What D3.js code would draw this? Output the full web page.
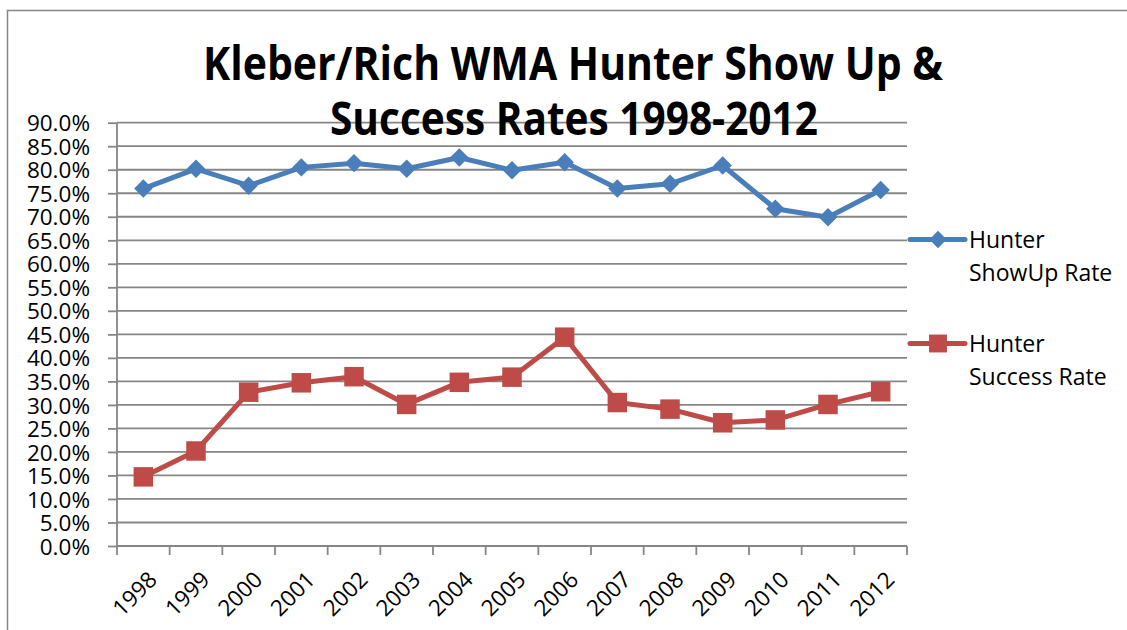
<!DOCTYPE html>
<html><head><meta charset="utf-8">
<script src="https://cdn.jsdelivr.net/npm/d3@7"></script>
<style>body{margin:0;background:#fff}svg{display:block}</style>
</head><body><svg id="c" width="1127" height="630"></svg>
<script>
const years = ["1998","1999","2000","2001","2002","2003","2004","2005","2006","2007","2008","2009","2010","2011","2012"];
const showUpRate = [76.0,80.2,76.6,80.5,81.4,80.2,82.6,79.9,81.6,76.0,77.0,80.9,71.7,69.9,75.7];
const successRate = [14.7,20.2,32.7,34.7,36.0,30.1,34.8,35.9,44.4,30.5,29.1,26.2,26.8,30.1,32.8];
const yTicks = [0,5,10,15,20,25,30,35,40,45,50,55,60,65,70,75,80,85,90];
const seriesNames = [["Hunter","ShowUp Rate"],["Hunter","Success Rate"]];
const titleLines = ["Kleber/Rich WMA Hunter Show Up &","Success Rates 1998-2012"];

const svg = d3.select("#c");
const L=117, R=907, T=122.7, B=546;
const x = d3.scaleBand().domain(years).range([L,R]);
const y = d3.scaleLinear().domain([0,90]).range([B,T]);
const grid="#868686", font="'Open Sans', sans-serif";
const blue="#4A7EBB", red="#BE4B48";
const fs = 22.5;

// outer border
svg.append("path").attr("d","M7.5,640 V10.5 H1140").attr("fill","none").attr("stroke","#868686").attr("stroke-width",1.5);

// gridlines
svg.append("g").selectAll("line").data(yTicks.slice(1)).join("line")
  .attr("x1",L).attr("x2",R).attr("y1",d=>y(d)).attr("y2",d=>y(d))
  .attr("stroke",grid).attr("stroke-width",1.8);

// y axis
const ya = svg.append("g").attr("transform",`translate(${L},0)`)
  .call(d3.axisLeft(y).tickValues(yTicks).tickSize(9).tickPadding(18).tickFormat(d=>d.toFixed(1)+"%"));
ya.select(".domain").attr("stroke",grid).attr("stroke-width",1.8).attr("d",`M0,${T}V${B}`);
ya.selectAll(".tick line").attr("stroke",grid).attr("stroke-width",1.8);
ya.selectAll(".tick text").attr("font-family",font).attr("font-size",fs).attr("fill","#000").attr("dy","0.36em");

// x axis
const xa = svg.append("g").attr("transform",`translate(0,${B})`);
xa.append("line").attr("x1",L).attr("x2",R).attr("stroke",grid).attr("stroke-width",1.8);
const bounds = years.map(d=>x(d)).concat([R]);
xa.selectAll("line.tk").data(bounds).join("line").attr("class","tk")
  .attr("x1",d=>d).attr("x2",d=>d).attr("y1",0).attr("y2",9).attr("stroke",grid).attr("stroke-width",1.8);
xa.selectAll("text").data(years).join("text")
  .attr("transform",d=>`translate(${x(d)+x.bandwidth()/2+4},${24}) rotate(-45)`)
  .attr("text-anchor","end").attr("dy","0.7em")
  .attr("font-family",font).attr("font-size",fs).attr("fill","#000").text(d=>d);

const cx = d=>x(d)+x.bandwidth()/2;
const line = d3.line();
function drawSeries(vals,color,shape,size,rot){
  const pts = years.map((yr,i)=>[cx(yr),y(vals[i])]);
  svg.append("path").attr("d",line(pts)).attr("fill","none").attr("stroke",color)
    .attr("stroke-width",5).attr("stroke-linejoin","round").attr("stroke-linecap","round");
  svg.append("g").selectAll("path").data(pts).join("path")
    .attr("transform",d=>`translate(${d[0]},${d[1]}) rotate(${rot})`)
    .attr("d",d3.symbol().type(shape).size(size)).attr("fill",color);
}
drawSeries(showUpRate,blue,d3.symbolSquare,170,45);
drawSeries(successRate,red,d3.symbolSquare,380,0);

// legend
const leg = [{c:blue,sz:150,rot:45,y:239.5},{c:red,sz:320,rot:0,y:343.5}];
leg.forEach((l,i)=>{
  const g = svg.append("g");
  g.append("line").attr("x1",910).attr("x2",965).attr("y1",l.y).attr("y2",l.y)
    .attr("stroke",l.c).attr("stroke-width",5).attr("stroke-linecap","round");
  g.append("path").attr("transform",`translate(938,${l.y}) rotate(${l.rot})`).attr("d",d3.symbol().type(d3.symbolSquare).size(l.sz)).attr("fill",l.c);
  g.append("text").attr("x",969).attr("y",l.y+8).attr("font-family",font).attr("font-size",23).attr("fill","#000").text(seriesNames[i][0]);
  g.append("text").attr("x",969).attr("y",l.y+41).attr("font-family",font).attr("font-size",23).attr("fill","#000").text(seriesNames[i][1]);
});

// title
svg.append("text").attr("x",573).attr("y",80).attr("text-anchor","middle")
  .attr("font-family",font).attr("font-weight","bold").attr("font-size",46)
  .attr("textLength",740).attr("lengthAdjust","spacingAndGlyphs").text(titleLines[0]);
svg.append("text").attr("x",574).attr("y",135).attr("text-anchor","middle")
  .attr("font-family",font).attr("font-weight","bold").attr("font-size",46)
  .attr("textLength",488).attr("lengthAdjust","spacingAndGlyphs").text(titleLines[1]);
</script></body></html>
